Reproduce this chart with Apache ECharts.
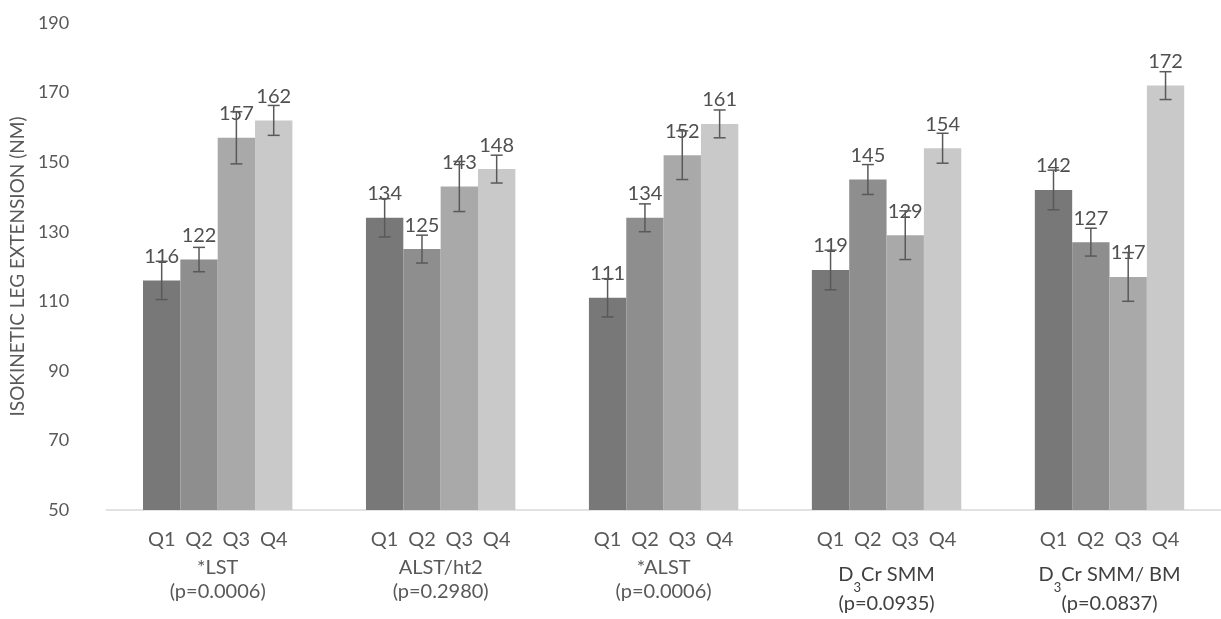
<!DOCTYPE html>
<html>
<head>
<meta charset="utf-8">
<script src="https://cdn.jsdelivr.net/npm/echarts@6/dist/echarts.min.js"></script>
<style>
  html, body { margin: 0; padding: 0; background: #ffffff; }
  #chart { width: 1221px; height: 619px; }
</style>
</head>
<body>
<div id="chart"></div>
<script>
// ---------- data ----------
const groupNames = ['*LST', 'ALST/ht2', '*ALST', 'D3Cr SMM', 'D3Cr SMM/ BM'];
const pValues = ['(p=0.0006)', '(p=0.2980)', '(p=0.0006)', '(p=0.0935)', '(p=0.0837)'];
const quartiles = ['Q1', 'Q2', 'Q3', 'Q4'];
const q1Values = [116, 134, 111, 119, 142];
const q2Values = [122, 125, 134, 145, 127];
const q3Values = [157, 143, 152, 129, 117];
const q4Values = [162, 148, 161, 154, 172];
const q1Err = [5.5, 5.5, 5.5, 5.7, 5.7];
const q2Err = [3.5, 4.0, 4.0, 4.3, 4.0];
const q3Err = [7.5, 7.2, 7.0, 7.0, 7.0];
const q4Err = [4.3, 4.0, 4.0, 4.3, 4.0];
const yMin = 50, yMax = 190, yInterval = 20;
const yTitle = 'ISOKINETIC LEG EXTENSION (NM)';

// ---------- build ----------
const seriesValues = [q1Values, q2Values, q3Values, q4Values];
const seriesErr = [q1Err, q2Err, q3Err, q4Err];
const barColors = ['#787878', '#8e8e8e', '#a9a9a9', '#c9c9c9'];
const CAT_GAP = 0.33;
const FONT = 'Lato, "Open Sans", sans-serif';

const errData = [];
const qLabelData = [];
groupNames.forEach((g, ci) => {
  quartiles.forEach((q, qi) => {
    const v = seriesValues[qi][ci], e = seriesErr[qi][ci];
    errData.push([ci, v - e, v + e, qi]);
    qLabelData.push([ci, qi]);
  });
});

function bandX(api, ci, qi) {
  const band = api.size([1, 0])[0];
  const bw = band * (1 - CAT_GAP) / 4;
  const c = api.coord([ci, yMin]);
  return c[0] + (qi - 1.5) * bw;
}

function renderErr(params, api) {
  const ci = api.value(0), lo = api.value(1), hi = api.value(2), qi = api.value(3);
  const x = bandX(api, ci, qi);
  const yLo = api.coord([ci, lo])[1];
  const yHi = api.coord([ci, hi])[1];
  const cap = 6;
  const st = { stroke: '#595959', lineWidth: 1.5 };
  return {
    type: 'group',
    children: [
      { type: 'line', shape: { x1: x, y1: yLo, x2: x, y2: yHi }, style: st },
      { type: 'line', shape: { x1: x - cap, y1: yHi, x2: x + cap, y2: yHi }, style: st },
      { type: 'line', shape: { x1: x - cap, y1: yLo, x2: x + cap, y2: yLo }, style: st }
    ]
  };
}

function renderQ(params, api) {
  const ci = api.value(0), qi = api.value(1);
  const x = bandX(api, ci, qi);
  const y = api.coord([ci, yMin])[1] + 30;
  return {
    type: 'text',
    style: {
      text: quartiles[qi], x: x, y: y,
      align: 'center', verticalAlign: 'middle',
      fill: '#595959', font: '20px ' + FONT
    }
  };
}

function catLabel(value, idx) {
  const name = groupNames[idx];
  const p = pValues[idx];
  if (name.indexOf('D3') === 0) {
    const rest = name.slice(2);
    return '{d|D}{sub|3}{d|' + rest + '}\n{p2|' + p + '}';
  }
  return '{n|' + name + '}\n{p|' + p + '}';
}

const series = seriesValues.map((vals, i) => ({
  name: quartiles[i],
  type: 'bar',
  data: vals,
  barGap: '0%',
  barCategoryGap: (CAT_GAP * 100) + '%',
  itemStyle: { color: barColors[i] },
  label: {
    show: true, position: 'top', distance: 14,
    color: '#505050', fontSize: 20, fontFamily: FONT
  },
  z: 2
}));
series.push({
  type: 'custom', renderItem: renderErr, data: errData,
  encode: { x: 0, y: [1, 2] }, z: 5, silent: true
});
series.push({
  type: 'custom', renderItem: renderQ, data: qLabelData,
  encode: { x: 0 }, z: 5, silent: true, clip: false
});

const chart = echarts.init(document.getElementById('chart'), null, { renderer: 'canvas' });
chart.setOption({
  animation: false,
  backgroundColor: '#ffffff',
  textStyle: { fontFamily: FONT },
  grid: { left: 104, top: 23, width: 1121, height: 487, containLabel: false },
  xAxis: {
    type: 'category',
    data: groupNames,
    axisLine: { show: true, lineStyle: { color: '#d9d9d9', width: 1.5 } },
    axisTick: { show: false },
    axisLabel: {
      interval: 0, margin: 46, color: '#595959', fontSize: 20, fontFamily: FONT,
      formatter: catLabel,
      rich: {
        n: { fontSize: 20, lineHeight: 24, color: '#595959', fontFamily: FONT },
        p: { fontSize: 20, lineHeight: 24, color: '#595959', fontFamily: FONT },
        d: { fontSize: 20, lineHeight: 38, color: '#404040', fontFamily: FONT },
        sub: { fontSize: 13, lineHeight: 33, verticalAlign: 'bottom', color: '#404040', fontFamily: FONT },
        p2: { fontSize: 20, lineHeight: 20, color: '#404040', fontFamily: FONT }
      }
    },
    splitLine: { show: false }
  },
  yAxis: {
    type: 'value',
    min: yMin, max: yMax, interval: yInterval,
    name: yTitle,
    nameLocation: 'middle',
    nameGap: 74,
    nameTextStyle: { color: '#595959', fontSize: 19, fontFamily: FONT },
    axisLine: { show: false },
    axisTick: { show: false },
    splitLine: { show: false },
    axisLabel: { color: '#595959', fontSize: 18, margin: 37, fontFamily: FONT }
  },
  series: series
});
</script>
</body>
</html>
